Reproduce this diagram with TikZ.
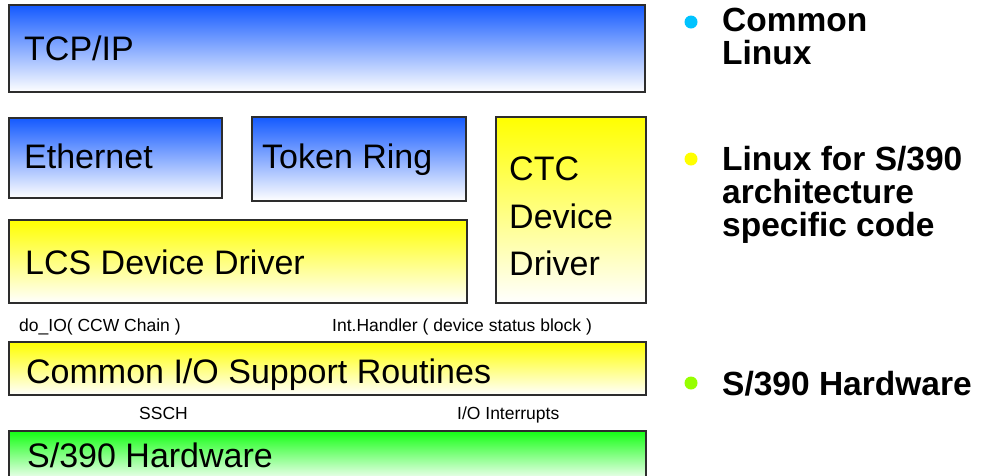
\documentclass[tikz,border=0pt]{standalone}
\usepackage{fontspec}
\setmainfont{Liberation Sans}
\definecolor{lblue}{RGB}{20,90,255}
\definecolor{lyellow}{RGB}{255,255,0}
\definecolor{lgreen}{RGB}{20,255,20}
\definecolor{dcyan}{RGB}{0,195,255}
\definecolor{dgreen}{RGB}{150,255,0}
\begin{document}
\begin{tikzpicture}[x=1pt,y=1pt,
  layer/.style={draw={rgb,255:red,45;green,45;blue,45},line width=1.2pt,bottom color=white},
  big/.style={anchor=base west,inner sep=0pt,font=\fontsize{34}{47.5}\selectfont},
  small/.style={anchor=base west,inner sep=0pt,font=\fontsize{17.5}{20}\selectfont},
  bullet/.style={anchor=north west,inner sep=0pt,align=left,font=\fontsize{33.5}{33}\selectfont\bfseries},
  dot/.style={circle,inner sep=0pt,minimum size=13pt}]
\useasboundingbox (0,0) rectangle (982,-475);
\path[layer,top color=lblue] (9,-5) rectangle (645,-92);
\path[layer,top color=lblue] (9,-118) rectangle (222,-198);
\path[layer,top color=lblue] (252,-117) rectangle (466,-201);
\path[layer,top color=lyellow] (496,-117) rectangle (646,-303);
\path[layer,top color=lyellow] (9,-220) rectangle (467,-303);
\path[layer,top color=lyellow] (9,-342) rectangle (646,-395);
\path[layer,top color=lgreen] (9,-431) rectangle (646,-482);
\node[big] (tcpip) at (24,-60) {TCP/IP};
\node[big] (ether) at (24,-168) {Ethernet};
\node[big] (token) at (262,-168) {Token Ring};
\node[big,anchor=north west,align=left] (ctc) at (509,-157) {CTC\\Device\\Driver};
\node[big] (lcs) at (25,-274) {LCS Device Driver};
\node[small] (doio) at (19,-331) {do\_IO( CCW Chain )};
\node[small] (inth) at (332,-331) {Int.Handler ( device status block )};
\node[big] (cio) at (26,-383) {Common I/O Support Routines};
\node[small] (ssch) at (139,-419) {SSCH};
\node[small] (ioint) at (457,-419) {I/O Interrupts};
\node[big] (hw) at (27,-467) {S/390 Hardware};
\node[dot,fill=dcyan] (d1) at (691,-22) {};
\node[dot,fill=lyellow] (d2) at (691,-159) {};
\node[dot,fill=dgreen] (d3) at (691,-383) {};
\node[bullet] (b1) at (722,-8) {Common\\Linux};
\node[bullet] (b2) at (722,-146) {Linux for S/390\\architecture\\specific code};
\node[bullet] (b3) at (722,-371) {S/390 Hardware};
\end{tikzpicture}
\end{document}
